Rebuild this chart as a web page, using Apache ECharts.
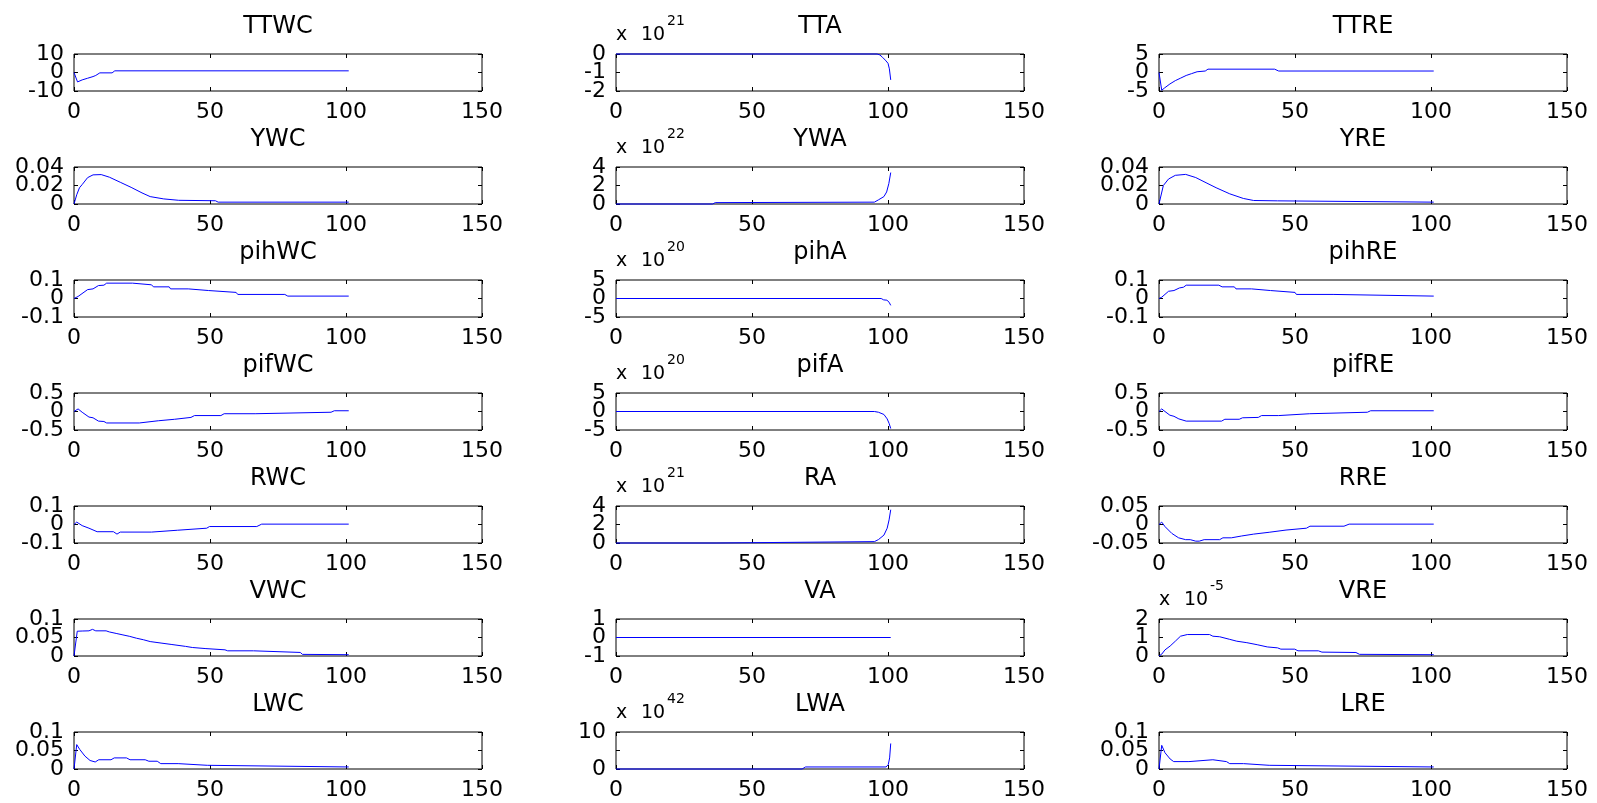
<!DOCTYPE html>
<html><head><meta charset="utf-8">
<script src="https://cdn.jsdelivr.net/npm/echarts@6/dist/echarts.min.js"></script>
<style>html,body{margin:0;padding:0;background:#fff}#c{width:1597px;height:803px}</style>
</head><body><div id="c"></div>
<script>
// ---------- data (values in the displayed axis units) ----------
const panelTitles = ['TTWC','TTA','TTRE','YWC','YWA','YRE','pihWC','pihA','pihRE','pifWC','pifA','pifRE','RWC','RA','RRE','VWC','VA','VRE','LWC','LWA','LRE'];
const exponents = [null,21,null, null,22,null, null,20,null, null,20,null, null,21,null, null,null,-5, null,42,null];
const yMins = [-10,-2,-5, 0,0,0, -0.1,-5,-0.1, -0.5,-5,-0.5, -0.1,0,-0.05, 0,-1,0, 0,0,0];
const yMaxs = [10,0,5, 0.04,4,0.04, 0.1,5,0.1, 0.5,5,0.5, 0.1,4,0.05, 0.1,1,2, 0.1,10,0.1];
const yIntervals = [10,1,5, 0.02,2,0.02, 0.1,5,0.1, 0.5,5,0.5, 0.1,2,0.05, 0.05,1,1, 0.05,5,0.05];
const yTickLabels = [
  ['-10','0','10'],['-2','-1','0'],['-5','0','5'],
  ['0','0.02','0.04'],['0','2','4'],['0','0.02','0.04'],
  ['-0.1','0','0.1'],['-5','0','5'],['-0.1','0','0.1'],
  ['-0.5','0','0.5'],['-5','0','5'],['-0.5','0','0.5'],
  ['-0.1','0','0.1'],['0','2','4'],['-0.05','0','0.05'],
  ['0','0.05','0.1'],['-1','0','1'],['0','1','2'],
  ['0','0.05','0.1'],['0','10'],['0','0.05','0.1']
];
const xTickLabels = ['0','50','100','150'];

const TTWC = [[0,0],[1.3,-5.1],[3,-4],[5,-3.1],[7,-2.2],[8,-1.6],[9.5,-0.2],[14,-0.2],[15,0.9],[101,0.9]];
const TTA  = [[0,0],[96,0],[97,-0.05],[98,-0.18],[99,-0.33],[100,-0.5],[100.5,-0.8],[101,-1.4]];
const TTRE = [[0,0],[1,-4.8],[2,-4.2],[4,-3.1],[6,-2.2],[8,-1.5],[10,-0.8],[12,-0.3],[14,0.2],[17,0.4],[18,0.9],[42.5,0.9],[44,0.4],[101,0.4]];
const YWC  = [[0,0],[1,0.01],[2,0.0175],[3,0.021],[5,0.0285],[7,0.0315],[10,0.0318],[13,0.029],[17,0.0235],[21,0.018],[25,0.012],[28,0.008],[33,0.0055],[38.5,0.004],[52,0.0035],[53,0.002],[101,0.002]];
const YWA  = [[0,0],[35.5,0],[36.5,0.15],[95,0.2],[96.5,0.45],[98.5,0.8],[99.5,1.3],[100.3,2.2],[101,3.4]];
const YRE  = [[0,0],[1.6,0.02],[3.5,0.027],[6,0.031],[9.8,0.032],[13.5,0.0286],[17.3,0.023],[21,0.0176],[26,0.011],[31,0.006],[34.8,0.0038],[43.6,0.0034],[44.2,0.002],[101,0.002]];
const pihWC = [[0,0],[1.5,0.011],[5,0.048],[7,0.052],[9,0.07],[11,0.072],[12,0.083],[21.5,0.083],[22.2,0.074],[28.5,0.074],[29.2,0.063],[35,0.063],[35.5,0.052],[42,0.052],[42.5,0.043],[49.5,0.043],[50,0.033],[59.6,0.033],[60.2,0.022],[77.5,0.022],[78.6,0.013],[101,0.013]];
const pihA = [[0,0],[97.5,0],[98.4,-0.37],[99.6,-0.46],[100.4,-1.0],[101,-1.85]];
const pihRE = [[0,0],[1,0.007],[3.5,0.039],[5.5,0.043],[7.5,0.057],[9,0.061],[10,0.072],[22,0.072],[23.2,0.063],[27.7,0.063],[28.3,0.052],[34,0.052],[34.6,0.043],[41,0.043],[41.5,0.033],[50,0.033],[50.5,0.022],[64,0.022],[64.7,0.013],[101,0.013]];
const pifWC = [[0,0],[1.5,0.07],[3,-0.02],[5.5,-0.15],[7,-0.17],[9,-0.26],[11,-0.27],[12,-0.31],[24,-0.31],[24.7,-0.27],[31,-0.25],[31.7,-0.21],[37,-0.21],[37.7,-0.17],[43,-0.16],[44.3,-0.11],[54,-0.11],[55.2,-0.06],[66.6,-0.06],[67.2,-0.02],[94.5,-0.02],[95.7,0.02],[101,0.02]];
const pifA = [[0,0],[95,0],[96.5,-0.2],[98.5,-0.8],[99.7,-2],[100.4,-3.2],[101,-4.6]];
const pifRE = [[0,0],[1,0.07],[2.2,0],[4,-0.1],[5.5,-0.13],[7.3,-0.2],[10,-0.26],[23,-0.26],[24.2,-0.21],[29.5,-0.21],[30.7,-0.17],[36.5,-0.16],[37.7,-0.11],[44,-0.11],[44.6,-0.06],[55.4,-0.06],[56,-0.02],[76.6,-0.02],[77.8,0.02],[101,0.02]];
const RWC = [[0,0],[1,0.013],[3,-0.006],[5.5,-0.02],[8.5,-0.039],[14.5,-0.039],[15.8,-0.052],[17,-0.041],[28.5,-0.041],[29.2,-0.031],[38,-0.031],[38.7,-0.022],[48.8,-0.02],[49.8,-0.011],[67.2,-0.011],[69,0.002],[101,0.002]];
const RA  = [[0,0],[36.8,0],[37.5,0.15],[95,0.15],[96.5,0.37],[98.5,0.85],[99.7,1.6],[100.4,2.5],[101,3.6]];
const RRE = [[0,0],[1,0.0065],[2.2,-0.0056],[4.7,-0.024],[7.2,-0.036],[9.8,-0.041],[11.5,-0.041],[13.5,-0.045],[14.8,-0.045],[16.6,-0.041],[22.3,-0.041],[23.5,-0.036],[26.6,-0.036],[27.3,-0.031],[30.4,-0.031],[31.1,-0.027],[34.8,-0.026],[35.4,-0.021],[40.5,-0.021],[41.1,-0.016],[46.7,-0.015],[47.3,-0.01],[54.2,-0.01],[55.5,-0.0046],[68,-0.0046],[69.9,0.001],[101,0.001]];
const VWC = [[0,0],[1.2,0.067],[3,0.0675],[5.5,0.068],[6.8,0.072],[8,0.068],[11.8,0.068],[13,0.065],[15.5,0.061],[18,0.057],[20.5,0.053],[23,0.048],[25.5,0.044],[28,0.039],[32,0.035],[36,0.031],[41,0.026],[43.5,0.023],[48.5,0.02],[55.5,0.0167],[56.5,0.014],[66,0.014],[66.6,0.0096],[83.2,0.0096],[84,0.0044],[101,0.0035]];
const VA  = [[0,0],[101,0]];
const VRE = [[0,0],[1,0.1],[2.2,0.33],[4.1,0.54],[6,0.8],[7.9,1.07],[10.4,1.16],[18.6,1.16],[19.8,1.07],[22.3,1.04],[26,0.9],[28.6,0.8],[32.3,0.72],[36.1,0.61],[39.8,0.49],[43.6,0.44],[44.8,0.37],[49.9,0.37],[51.1,0.28],[58.6,0.28],[59.9,0.21],[72.4,0.19],[73.7,0.09],[101,0.07]];
const LWC = [[0,0],[1,0.066],[2.1,0.053],[4,0.035],[5.9,0.023],[7.8,0.019],[9.1,0.025],[13.6,0.025],[14.8,0.03],[19.3,0.03],[20.6,0.025],[26.2,0.025],[27.5,0.021],[30.6,0.021],[31.9,0.0145],[38.3,0.0145],[38.9,0.01],[49,0.01],[49.6,0.0055],[101,0.0055]];
const LWA = [[0,0],[68.4,0],[69.7,0.55],[99.3,0.55],[100.1,1.2],[100.6,3],[101,6.9]];
const LRE = [[0,0],[1,0.064],[2.2,0.044],[4.1,0.027],[5.4,0.02],[11,0.02],[11.6,0.025],[19.8,0.025],[20.4,0.02],[24.8,0.02],[26,0.0145],[31.1,0.0145],[31.7,0.01],[40.5,0.01],[41.1,0.0055],[101,0.0055]];

const panelData = [TTWC,TTA,TTRE,YWC,YWA,YRE,pihWC,pihA,pihRE,pifWC,pifA,pifRE,RWC,RA,RRE,VWC,VA,VRE,LWC,LWA,LRE];

// ---------- layout ----------
const colLefts = [74, 616, 1159];
const plotW = 408, plotH = 37, rowTop0 = 54, rowPitch = 113;
const FONT = 'DejaVu Sans';
const tickFs = 22, titleFs = 24, expBaseFs = 19, expFs = 14;

const grids=[], xAxes=[], yAxes=[], series=[], graphics=[];
panelTitles.forEach((name,i)=>{
  const r=Math.floor(i/3), c=i%3;
  const L=colLefts[c], T=rowTop0+rowPitch*r;
  grids.push({left:L, top:T, width:plotW, height:plotH, show:true, borderColor:'#000', borderWidth:1,
    backgroundColor:'transparent', containLabel:false, outerBoundsMode:'none'});
  const mk = (extra)=>Object.assign({type:'value', gridIndex:i, splitLine:{show:false},
    axisLine:{show:false, onZero:false},
    axisTick:{show:true, inside:true, length:4, lineStyle:{color:'#000', width:1}}}, extra);
  const xFmt = (v)=>{const s=xTickLabels.find(t=>Math.abs(parseFloat(t)-v)<1e-9); return s===undefined?'':s;};
  const xIdx = xAxes.length;
  xAxes.push(mk({position:'bottom', min:0, max:150, interval:50,
    axisLabel:{show:true, color:'#000', fontSize:tickFs, fontFamily:FONT, margin:10, hideOverlap:false, formatter:xFmt}}));
  xAxes.push(mk({position:'top', min:0, max:150, interval:50, axisLabel:{show:false}}));
  const yr = {min:yMins[i], max:yMaxs[i], interval:yIntervals[i]};
  const yIdx = yAxes.length;
  yAxes.push(mk(Object.assign({position:'left', axisLabel:{show:false}}, yr)));
  yAxes.push(mk(Object.assign({position:'right', axisLabel:{show:false}}, yr)));
  // one label-only axis per tick label, so the labels never compete for space
  yTickLabels[i].forEach(t=>{
    const v = parseFloat(t);
    yAxes.push(mk(Object.assign({position:'left', axisTick:{show:false},
      axisLabel:{show:true, color:'#000', fontSize:tickFs, fontFamily:FONT, margin:10, hideOverlap:false,
        customValues:[v], formatter:()=>t}}, yr)));
  });
  series.push({type:'line', xAxisIndex:xIdx, yAxisIndex:yIdx, data:panelData[i], showSymbol:false, symbol:'none',
    clip:false, lineStyle:{color:'#0000ff', width:1}, itemStyle:{color:'#0000ff'}, silent:true, z:5});
  graphics.push({type:'text', x:L+plotW/2, y:T-27.5, silent:true,
    style:{text:name, fontSize:titleFs, fontFamily:FONT, fill:'#000', align:'center', textAlign:'center', verticalAlign:'middle', textVerticalAlign:'middle'}});
  if(exponents[i]!==null){
    graphics.push({type:'text', x:L, y:T-18.9, silent:true,
      style:{text:'x', fontSize:expBaseFs, fontFamily:FONT, fill:'#000', align:'left', textAlign:'left', verticalAlign:'middle', textVerticalAlign:'middle'}});
    graphics.push({type:'text', x:L+25, y:T-18.9, silent:true,
      style:{text:'10', fontSize:expBaseFs, fontFamily:FONT, fill:'#000', align:'left', textAlign:'left', verticalAlign:'middle', textVerticalAlign:'middle'}});
    graphics.push({type:'text', x:L+51, y:T-33, silent:true,
      style:{text:String(exponents[i]), fontSize:expFs, fontFamily:FONT, fill:'#000', align:'left', textAlign:'left', verticalAlign:'middle', textVerticalAlign:'middle'}});
  }
});

const chart = echarts.init(document.getElementById('c'));
chart.setOption({
  animation:false, backgroundColor:'#fff',
  grid:grids, xAxis:xAxes, yAxis:yAxes, series:series, graphic:graphics,
  tooltip:{show:false}
});
</script></body></html>
